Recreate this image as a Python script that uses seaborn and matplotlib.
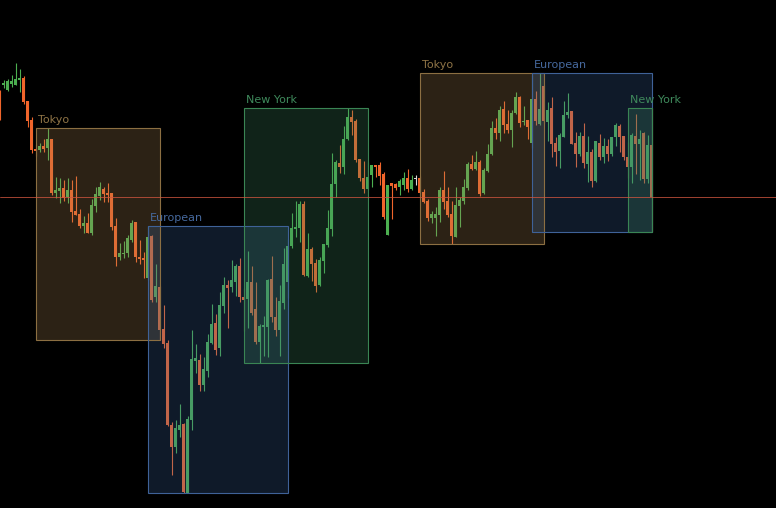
import numpy as np
import pandas as pd
import matplotlib
matplotlib.use("Agg")
import matplotlib.pyplot as plt
from matplotlib.patches import Rectangle
import seaborn as sns

# ---- data (price in points) ----
opens = [409,415,410,416,415,420,422,399,380,351, 350,354,352,361,307,309,312,303,310,289,
         286,274,277,267,294,304,311,307,307,274, 243,246,247,260,278,243,242,222,264,203,
         213,171,157,75,53,70,76,7,80,139, 140,115,129,157,177,152,194,215,213,218,
         234,203,201,218,191,158,173,173,221,183, 170,197,218,254,271,272,296,224,251,237,
         215,239,255,271,316,337,333,361,383,379, 341,322,311,325,335,335,326,265,317,316,
         313,315,322,311,321,322,308,299,282,282, 285,310,299,286,263,294,299,312,336,331,
         338,307,329,346,372,367,391,376,370,387, 403,378,380,357,401,376,414,378,392,357,
         349,363,385,389,357,346,364,336,348,319, 357,343,354,346,363,374,364,343,333,364,
         356,367,321,355]
highs = [410,420,421,425,437,431,424,399,383,356, 357,361,372,361,323,322,320,322,320,324,
         291,284,287,301,313,318,313,317,307,282, 257,259,265,280,278,260,248,274,265,236,
         214,195,160,78,80,96,77,84,170,156, 146,143,166,196,186,208,223,220,240,236,
         242,212,249,234,218,176,184,221,244,203, 215,252,261,287,299,299,299,267,253,241,
         243,256,290,347,340,355,374,392,390,381, 341,339,338,335,335,338,328,315,317,317,
         321,328,331,325,325,324,311,301,289,293, 313,329,313,299,313,303,321,338,345,349,
         340,332,356,379,382,394,399,390,390,408, 404,394,380,425,409,427,415,398,403,363,
         367,399,407,389,368,368,377,364,351,359, 366,362,361,363,377,376,364,358,367,386,
         370,368,365,392]
lows = [380,412,409,413,415,408,396,373,347,344, 348,348,340,305,302,297,299,297,278,285,
        272,267,267,265,288,300,298,298,270,234, 240,242,243,258,238,236,222,220,198,198,
        160,152,74,25,47,63,7,7,70,127, 109,109,123,156,145,144,187,172,208,204,
        198,169,172,185,156,137,144,143,178,164, 144,191,202,252,263,258,224,223,219,208,
        214,227,253,264,303,327,326,360,365,338, 319,307,310,313,323,315,281,265,281,310,
        305,310,308,310,315,304,297,279,277,264, 278,291,283,256,263,273,296,310,330,330,
        304,306,328,345,361,359,367,367,353,386, 373,375,361,352,375,375,377,359,343,334,
        332,363,382,356,333,344,332,318,313,318, 340,337,339,344,354,348,340,322,317,326,
        320,317,317,268]
closes = [381,417,419,419,421,422,398,379,350,349, 354,351,361,307,310,312,302,310,288,285,
          274,277,267,295,306,313,306,305,273,243, 247,247,262,277,243,241,240,263,200,214,
          170,156,75,53,72,75,8,81,141,142, 115,131,158,176,150,195,215,212,220,234,
          203,200,218,187,158,174,175,220,183,170, 199,236,254,272,273,296,225,251,236,214,
          240,256,272,316,338,333,361,383,378,340, 322,311,323,335,333,324,283,315,314,312,
          319,322,311,320,321,307,298,282,286,286, 310,298,285,264,295,300,313,336,331,338,
          306,330,346,372,367,390,375,370,387,403, 377,379,373,401,379,391,379,390,356,348,
          365,385,388,356,346,364,337,348,319,359, 343,354,346,363,375,363,343,333,365,356,
          361,321,355,303]

session_names = ["Tokyo", "European", "New York", "Tokyo", "European", "New York"]
session_start = [9, 37, 61, 105, 133, 157]
session_end = [40, 72, 92, 136, 163, 163]

session_style = {
    "Tokyo":    {"edge": "#8c6f42", "face": "#ad8755", "text": "#8f7446"},
    "European": {"edge": "#3f6298", "face": "#3b66a0", "text": "#46699e"},
    "New York": {"edge": "#3a8554", "face": "#3e8a64", "text": "#3f8a5c"},
}

BULL = "#4caf50"
BEAR = "#f0652b"
DOJI = "#d8d8d8"

df = pd.DataFrame({"open": opens, "high": highs, "low": lows, "close": closes})
df["idx"] = np.arange(len(df))
df["color"] = np.where(df.close > df.open, BULL, np.where(df.close < df.open, BEAR, DOJI))
df["bottom"] = df[["open", "close"]].min(axis=1)
df["height"] = (df.close - df.open).abs().clip(lower=1)

sns.set_theme(style="dark", rc={"axes.facecolor": "black", "figure.facecolor": "black"})
plt.rcParams['font.family'] = ['DejaVu Sans']

fig = plt.figure(figsize=(7.76, 5.08), dpi=100)
ax = fig.add_axes([0, 0, 1, 1])
ax.set_facecolor("black")

# wicks
ax.vlines(df.idx, df.low, df.high, colors=df.color, linewidth=0.8, zorder=2)
# bodies
ax.bar(df.idx, df.height, bottom=df.bottom, width=0.8, color=df.color, linewidth=0, zorder=2)

# sessions
for name, s, e in zip(session_names, session_start, session_end):
    seg = df.iloc[s:e + 1]
    hi, lo = seg.high.max(), seg.low.min()
    st = session_style[name]
    ax.add_patch(Rectangle((s, lo), e - s, hi - lo, facecolor=st["face"], alpha=0.26,
                           edgecolor="none", zorder=3))
    ax.add_patch(Rectangle((s, lo), e - s, hi - lo, facecolor="none",
                           edgecolor=st["edge"], linewidth=0.8, zorder=3.5))
    ax.annotate(name, xy=(s, hi), xytext=(1.5, 2.0), textcoords="offset points",
                ha="left", va="bottom", color=st["text"], fontsize=8, zorder=5)

# last price line
ax.axhline(closes[-1], color="#d0553f", linewidth=0.6, alpha=0.9, zorder=4)

ax.set_xlim(0.125, 194.125)
ax.set_ylim(-8, 500)
ax.axis("off")

fig.savefig("out.png", dpi=100, facecolor="black")
